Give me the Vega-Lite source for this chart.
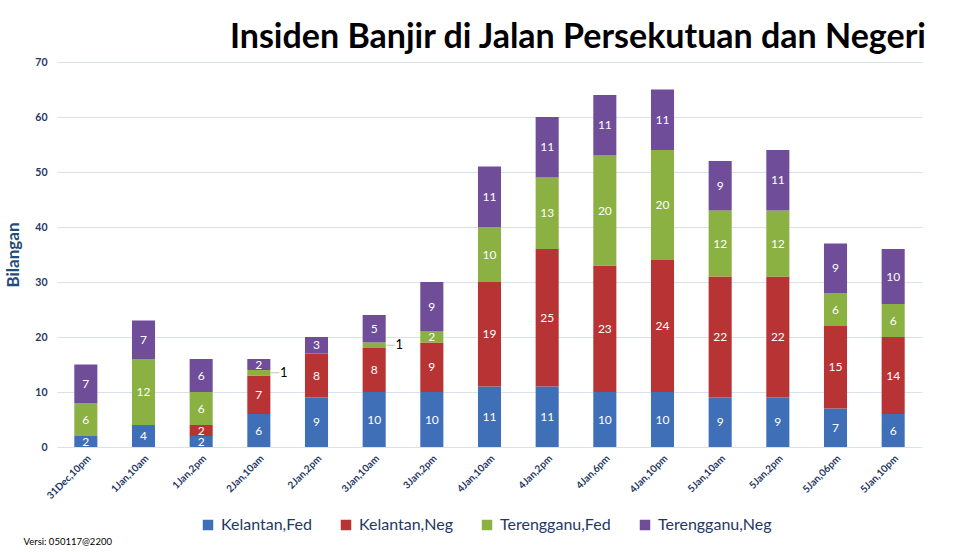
{
  "$schema": "https://vega.github.io/schema/vega-lite/v6.json",
  "width": 865,
  "height": 385,
  "autosize": "none",
  "padding": {"left": 57, "top": 62, "right": 41, "bottom": 105},
  "background": "white",
  "title": {
    "text": "Insiden Banjir di Jalan Persekutuan dan Negeri",
    "anchor": "end",
    "frame": "group",
    "font": "Lato",
    "fontSize": 34,
    "fontWeight": "bold",
    "color": "#000000",
    "offset": 2,
    "dx": 4
  },
  "data": {
    "values": [
      {"t": "31Dec,10pm", "s": "Kelantan,Fed", "o": 1, "v": 2},
      {"t": "31Dec,10pm", "s": "Kelantan,Neg", "o": 2, "v": 0},
      {"t": "31Dec,10pm", "s": "Terengganu,Fed", "o": 3, "v": 6},
      {"t": "31Dec,10pm", "s": "Terengganu,Neg", "o": 4, "v": 7},
      {"t": "1Jan,10am", "s": "Kelantan,Fed", "o": 1, "v": 4},
      {"t": "1Jan,10am", "s": "Kelantan,Neg", "o": 2, "v": 0},
      {"t": "1Jan,10am", "s": "Terengganu,Fed", "o": 3, "v": 12},
      {"t": "1Jan,10am", "s": "Terengganu,Neg", "o": 4, "v": 7},
      {"t": "1Jan,2pm", "s": "Kelantan,Fed", "o": 1, "v": 2},
      {"t": "1Jan,2pm", "s": "Kelantan,Neg", "o": 2, "v": 2},
      {"t": "1Jan,2pm", "s": "Terengganu,Fed", "o": 3, "v": 6},
      {"t": "1Jan,2pm", "s": "Terengganu,Neg", "o": 4, "v": 6},
      {"t": "2Jan,10am", "s": "Kelantan,Fed", "o": 1, "v": 6},
      {"t": "2Jan,10am", "s": "Kelantan,Neg", "o": 2, "v": 7},
      {"t": "2Jan,10am", "s": "Terengganu,Fed", "o": 3, "v": 1},
      {"t": "2Jan,10am", "s": "Terengganu,Neg", "o": 4, "v": 2},
      {"t": "2Jan,2pm", "s": "Kelantan,Fed", "o": 1, "v": 9},
      {"t": "2Jan,2pm", "s": "Kelantan,Neg", "o": 2, "v": 8},
      {"t": "2Jan,2pm", "s": "Terengganu,Fed", "o": 3, "v": 0},
      {"t": "2Jan,2pm", "s": "Terengganu,Neg", "o": 4, "v": 3},
      {"t": "3Jan,10am", "s": "Kelantan,Fed", "o": 1, "v": 10},
      {"t": "3Jan,10am", "s": "Kelantan,Neg", "o": 2, "v": 8},
      {"t": "3Jan,10am", "s": "Terengganu,Fed", "o": 3, "v": 1},
      {"t": "3Jan,10am", "s": "Terengganu,Neg", "o": 4, "v": 5},
      {"t": "3Jan,2pm", "s": "Kelantan,Fed", "o": 1, "v": 10},
      {"t": "3Jan,2pm", "s": "Kelantan,Neg", "o": 2, "v": 9},
      {"t": "3Jan,2pm", "s": "Terengganu,Fed", "o": 3, "v": 2},
      {"t": "3Jan,2pm", "s": "Terengganu,Neg", "o": 4, "v": 9},
      {"t": "4Jan,10am", "s": "Kelantan,Fed", "o": 1, "v": 11},
      {"t": "4Jan,10am", "s": "Kelantan,Neg", "o": 2, "v": 19},
      {"t": "4Jan,10am", "s": "Terengganu,Fed", "o": 3, "v": 10},
      {"t": "4Jan,10am", "s": "Terengganu,Neg", "o": 4, "v": 11},
      {"t": "4Jan,2pm", "s": "Kelantan,Fed", "o": 1, "v": 11},
      {"t": "4Jan,2pm", "s": "Kelantan,Neg", "o": 2, "v": 25},
      {"t": "4Jan,2pm", "s": "Terengganu,Fed", "o": 3, "v": 13},
      {"t": "4Jan,2pm", "s": "Terengganu,Neg", "o": 4, "v": 11},
      {"t": "4Jan,6pm", "s": "Kelantan,Fed", "o": 1, "v": 10},
      {"t": "4Jan,6pm", "s": "Kelantan,Neg", "o": 2, "v": 23},
      {"t": "4Jan,6pm", "s": "Terengganu,Fed", "o": 3, "v": 20},
      {"t": "4Jan,6pm", "s": "Terengganu,Neg", "o": 4, "v": 11},
      {"t": "4Jan,10pm", "s": "Kelantan,Fed", "o": 1, "v": 10},
      {"t": "4Jan,10pm", "s": "Kelantan,Neg", "o": 2, "v": 24},
      {"t": "4Jan,10pm", "s": "Terengganu,Fed", "o": 3, "v": 20},
      {"t": "4Jan,10pm", "s": "Terengganu,Neg", "o": 4, "v": 11},
      {"t": "5Jan,10am", "s": "Kelantan,Fed", "o": 1, "v": 9},
      {"t": "5Jan,10am", "s": "Kelantan,Neg", "o": 2, "v": 22},
      {"t": "5Jan,10am", "s": "Terengganu,Fed", "o": 3, "v": 12},
      {"t": "5Jan,10am", "s": "Terengganu,Neg", "o": 4, "v": 9},
      {"t": "5Jan,2pm", "s": "Kelantan,Fed", "o": 1, "v": 9},
      {"t": "5Jan,2pm", "s": "Kelantan,Neg", "o": 2, "v": 22},
      {"t": "5Jan,2pm", "s": "Terengganu,Fed", "o": 3, "v": 12},
      {"t": "5Jan,2pm", "s": "Terengganu,Neg", "o": 4, "v": 11},
      {"t": "5Jan,06pm", "s": "Kelantan,Fed", "o": 1, "v": 7},
      {"t": "5Jan,06pm", "s": "Kelantan,Neg", "o": 2, "v": 15},
      {"t": "5Jan,06pm", "s": "Terengganu,Fed", "o": 3, "v": 6},
      {"t": "5Jan,06pm", "s": "Terengganu,Neg", "o": 4, "v": 9},
      {"t": "5Jan,10pm", "s": "Kelantan,Fed", "o": 1, "v": 6},
      {"t": "5Jan,10pm", "s": "Kelantan,Neg", "o": 2, "v": 14},
      {"t": "5Jan,10pm", "s": "Terengganu,Fed", "o": 3, "v": 6},
      {"t": "5Jan,10pm", "s": "Terengganu,Neg", "o": 4, "v": 10}
    ]
  },
  "transform": [
    {"stack": "v", "groupby": ["t"], "sort": [{"field": "o"}], "as": ["v0", "v1"]},
    {"calculate": "(datum.v0 + datum.v1) / 2", "as": "mid"}
  ],
  "encoding": {
    "x": {
      "field": "t",
      "type": "nominal",
      "sort": null,
      "scale": {"paddingInner": 0.6, "paddingOuter": 0.3},
      "axis": {
        "title": "Versi: 050117@2200",
        "titleX": -34,
        "titleY": 94,
        "titleAlign": "left",
        "titleBaseline": "middle",
        "titleAnchor": null,
        "titleFont": "Lato",
        "titleFontSize": 9.5,
        "titleFontWeight": "normal",
        "titleColor": "#000000",
        "labelAngle": -45,
        "labelFont": "Lato",
        "labelFontSize": 10,
        "labelFontWeight": "bold",
        "labelColor": "#1F3864",
        "labelPadding": 6,
        "domain": false,
        "ticks": false
      }
    }
  },
  "layer": [
    {
      "mark": {"type": "bar"},
      "encoding": {
        "y": {
          "field": "v0",
          "type": "quantitative",
          "scale": {"domain": [0, 70], "nice": false},
          "axis": {
            "title": "Bilangan",
            "titleFont": "Lato",
            "titleFontSize": 17,
            "titleFontWeight": "bold",
            "titleColor": "#1F4E79",
            "titlePadding": 12,
            "values": [0, 10, 20, 30, 40, 50, 60, 70],
            "labelFont": "Lato",
            "labelFontSize": 10.5,
            "labelFontWeight": "bold",
            "labelColor": "#1F3864",
            "labelPadding": 10,
            "domain": false,
            "ticks": false,
            "gridColor": "#D9E2EC",
            "gridWidth": 1
          }
        },
        "y2": {"field": "v1"},
        "color": {
          "field": "s",
          "type": "nominal",
          "scale": {
            "domain": ["Kelantan,Fed", "Kelantan,Neg", "Terengganu,Fed", "Terengganu,Neg"],
            "range": ["#3F6FB6", "#B83334", "#8AB142", "#6F4D99"]
          },
          "legend": {
            "title": null,
            "orient": "none",
            "direction": "horizontal",
            "legendX": 143,
            "legendY": 455,
            "symbolType": "square",
            "symbolSize": 110,
            "symbolStrokeWidth": 0,
            "labelFont": "Lato",
            "labelFontSize": 16,
            "labelColor": "#1F3864",
            "labelOffset": 5,
            "columnPadding": 26
          }
        }
      }
    },
    {
      "transform": [{"filter": "datum.v >= 2"}],
      "mark": {"type": "text", "color": "white", "font": "Lato", "fontSize": 12, "baseline": "middle"},
      "encoding": {
        "y": {"field": "mid", "type": "quantitative"},
        "text": {"field": "v", "type": "quantitative"}
      }
    },
    {
      "transform": [{"filter": "datum.v == 1"}],
      "mark": {"type": "tick", "orient": "horizontal", "size": 9, "thickness": 1, "xOffset": 16, "color": "#9FB98A"},
      "encoding": {
        "y": {"field": "mid", "type": "quantitative"}
      }
    },
    {
      "transform": [{"filter": "datum.v == 1"}],
      "mark": {"type": "text", "color": "black", "font": "Lato", "fontSize": 13, "baseline": "middle", "dx": 25},
      "encoding": {
        "y": {"field": "mid", "type": "quantitative"},
        "text": {"field": "v", "type": "quantitative"}
      }
    }
  ],
  "config": {
    "view": {"stroke": null}
  }
}
